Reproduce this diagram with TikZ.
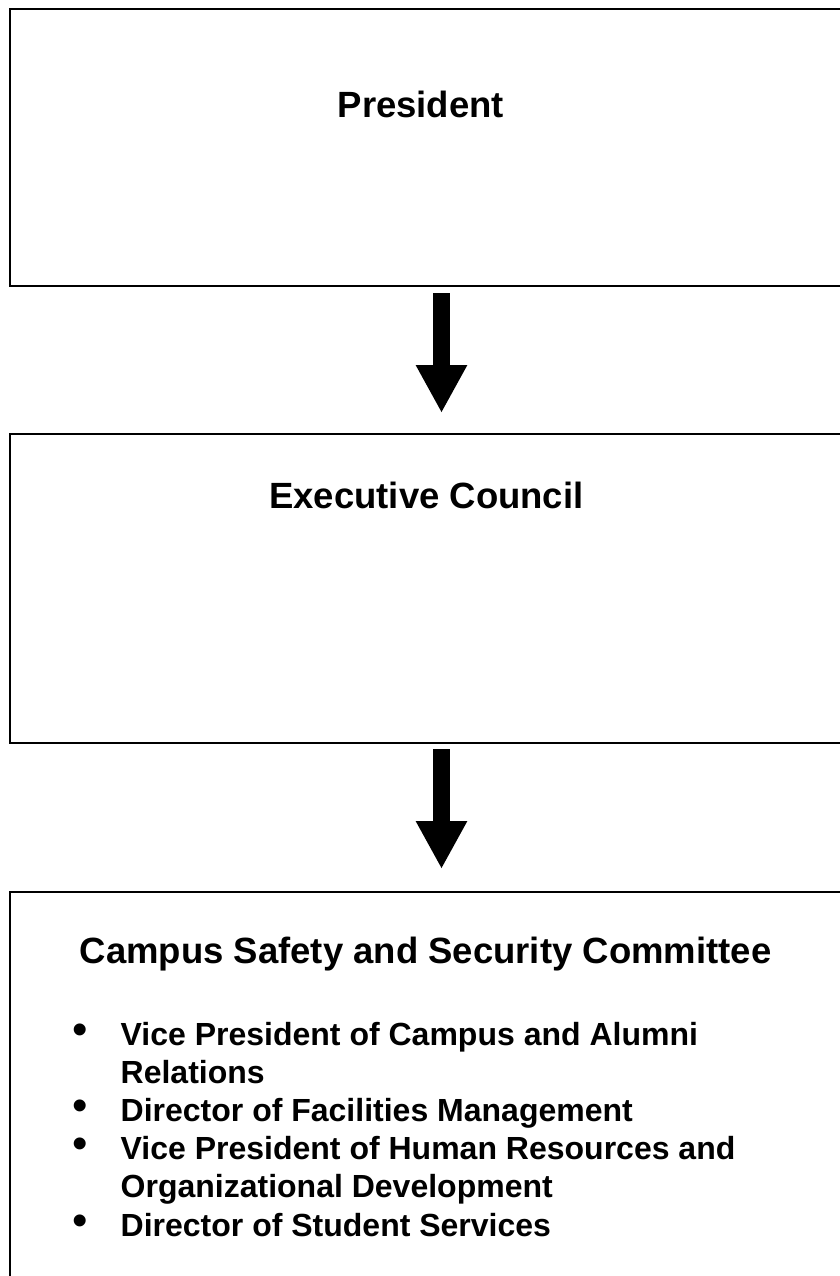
\documentclass[tikz,border=0pt]{standalone}
\usepackage{fontspec}
\setmainfont{Liberation Sans}
\usetikzlibrary{arrows.meta}

\tikzset{
  orgbox/.style={draw, line width=2pt, rectangle, anchor=north west, inner sep=0pt, outer sep=0pt},
  headtxt/.style={anchor=base west, inner sep=0pt, font=\fontsize{36.5}{44}\selectfont\bfseries},
  itemtxt/.style={anchor=base west, inner sep=0pt, font=\fontsize{32}{38}\selectfont\bfseries},
  bullettxt/.style={anchor=center, inner sep=0pt, font=\fontsize{44}{44}\selectfont},
  bigarrow/.style={line width=17pt, -{Triangle[width=48pt,length=48pt]}}
}

\begin{document}
\begin{tikzpicture}[x=1pt,y=-1pt]
  \useasboundingbox (0,0) rectangle (839,1276);

  % Boxes
  \node[orgbox, minimum width=850pt, minimum height=276.5pt] (pres) at (10,9) {};
  \node[orgbox, minimum width=850pt, minimum height=309pt] (exec) at (10,434) {};
  \node[orgbox, minimum width=850pt, minimum height=410pt] (cssc) at (10,892) {};

  % Arrows
  \coordinate (ax) at (441.5,0);
  \draw[bigarrow, shorten <=7.5pt, shorten >=21pt] (ax |- pres.south) -- (ax |- exec.north);
  \draw[bigarrow, shorten <=6pt, shorten >=23pt] (ax |- exec.south) -- (ax |- cssc.north);

  % Titles
  \node[headtxt] (prestitle) at (337.5,118) {President};
  \node[headtxt] (exectitle) at (269,508) {Executive Council};
  \node[headtxt] (cssctitle) at (79.5,963) {Campus Safety and Security Committee};

  % Members
  \node[itemtxt] (m1a) at (120.5,1045) {Vice President of Campus and Alumni};
  \node[itemtxt] (m1b) at (120.5,1083.2) {Relations};
  \node[itemtxt] (m2) at (120.5,1121.4) {Director of Facilities Management};
  \node[itemtxt] (m3a) at (120.5,1159.6) {Vice President of Human Resources and};
  \node[itemtxt] (m3b) at (120.5,1197.8) {Organizational Development};
  \node[itemtxt] (m4) at (120.5,1236) {Director of Student Services};

  % Bullets
  \node[bullettxt] (b1) at (80,1034) {•};
  \node[bullettxt] (b2) at (80,1110.4) {•};
  \node[bullettxt] (b3) at (80,1148.6) {•};
  \node[bullettxt] (b4) at (80,1225) {•};
\end{tikzpicture}
\end{document}
